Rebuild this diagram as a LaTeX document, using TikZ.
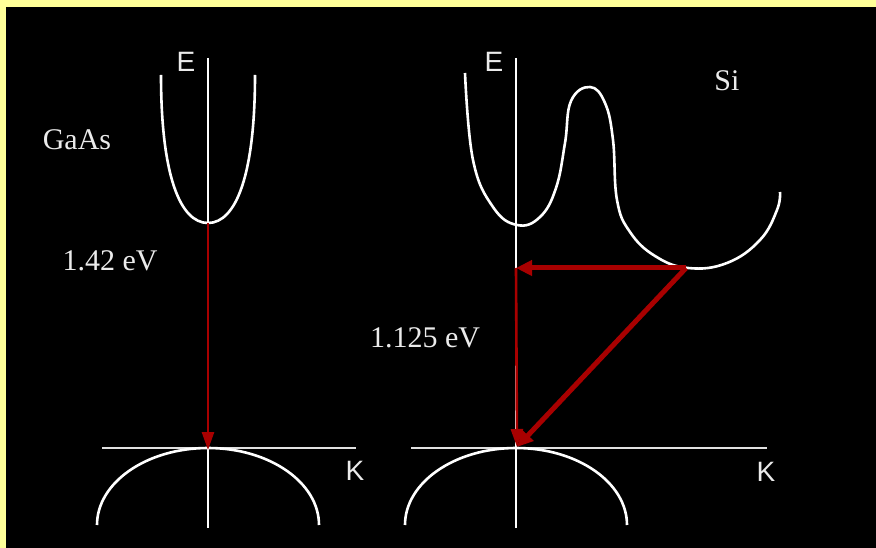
\documentclass[tikz,border=0pt]{standalone}
\usepackage{fontspec}
\setmainfont{Liberation Serif}
\setsansfont{Liberation Sans}
\usepackage{xcolor}
\usepackage{tikz}
\usetikzlibrary{arrows.meta}
\definecolor{slideframe}{HTML}{FFFF99}
\definecolor{transred}{HTML}{A80000}

\begin{document}
\begin{tikzpicture}[
    x=1pt, y=-1pt,
    band/.style={white, line width=2.6pt},
    axis/.style={white, line width=2.4pt},
    kline/.style={white!88!black, line width=2.4pt},
    lbl/.style={text=white!92!black, font=\fontsize{30}{36}\selectfont, inner sep=0pt},
    axlbl/.style={text=white!92!black, font=\sffamily\fontsize{28}{33}\selectfont, inner sep=0pt},
    thinarr/.style={-{Triangle[length=18pt, width=12pt]}, transred, line width=2.6pt},
    thickarr/.style={-{Triangle[length=16pt, width=15pt]}, transred, line width=5pt},
  ]
  % Frame
  \fill[slideframe] (0,0) rectangle (876,548);
  \fill[black] (6,7) rectangle (876,548);
  \useasboundingbox (0,0) rectangle (876,548);

  % GaAs
  \coordinate (gtop) at (208,58);
  \coordinate (gbot) at (208,528);
  \coordinate (gcmin) at (208,223);
  \coordinate (gvmax) at (208,450);
  \draw[axis] (gtop) -- (gbot);
  \draw[band] (161,75) .. controls (161,175) and (180,223) .. (gcmin)
              .. controls (236,223) and (255,175) .. (255,75);
  \draw[kline] (102,448) -- (356,448);
  \draw[band] (97,525) .. controls (97,482.5) and (146.7,448) .. (208,448)
              .. controls (269.3,448) and (319,482.5) .. (319,525);
  \draw[thinarr] (gcmin) -- (gvmax);

  \node[axlbl] (gE) at (186,62) {E};
  \node[axlbl] (gK) at (355,471) {K};
  \node[lbl] (gname) at (77,140) {GaAs};
  \node[lbl] (ggap) at (110,261) {1.42 eV};

  % Si
  \coordinate (stop) at (516,58);
  \coordinate (sbot) at (516,528);
  \coordinate (sgam) at (516,268);
  \coordinate (smin) at (686,268);
  \coordinate (svmax) at (517,447);
  \draw[axis] (stop) -- (sbot);
  \draw[band] plot[smooth, tension=0.7] coordinates {
      (465,73) (473,160) (493,207) (517,225) (540,217) (556,188)
      (565,143) (571,101) (590,87) (605,103) (613,140) (617,200)
      (630,232) (655,256) (688,268) (727,263) (760,240)
      (777,210) (780,192)};
  \draw[kline] (411,448) -- (767,448);
  \draw[band] (405,525) .. controls (405,482.5) and (454.7,448) .. (516,448)
              .. controls (577.3,448) and (627,482.5) .. (627,525);
  \draw[thinarr] (sgam) -- (svmax);
  \draw[thickarr] (smin) -- (sgam);
  \draw[thickarr] (smin) -- (svmax);

  \node[axlbl] (sE) at (494,62) {E};
  \node[axlbl] (sK) at (766,472) {K};
  \node[lbl] (sname) at (727,81) {Si};
  \node[lbl] (sgap) at (425,338) {1.125 eV};
\end{tikzpicture}
\end{document}
